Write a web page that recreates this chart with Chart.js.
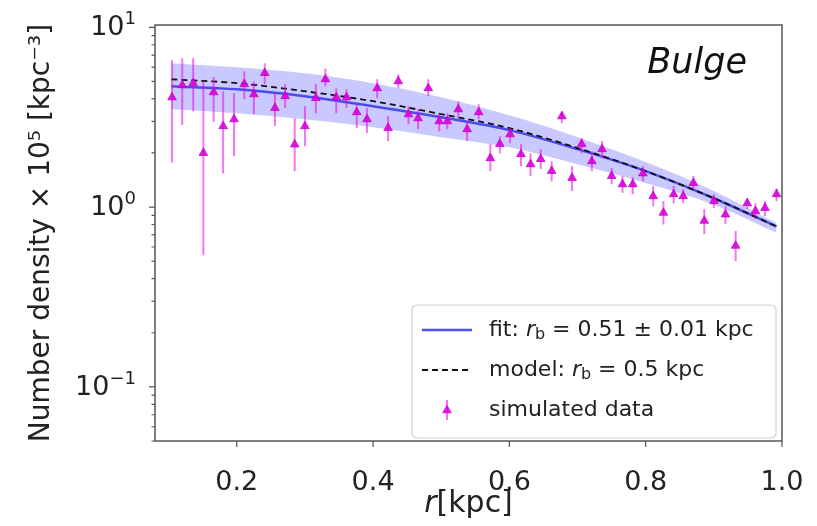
<!DOCTYPE html>
<html>
<head>
<meta charset="utf-8">
<script src="https://cdn.jsdelivr.net/npm/chart.js@4.4.1/dist/chart.umd.min.js"></script>
<style>
  html, body { margin: 0; padding: 0; background: #fff; }
</style>
</head>
<body>
<canvas id="canvas" width="817" height="526"></canvas>
<script>
// MARK: Data
const radius = [
  0.105, 0.120, 0.136, 0.151, 0.166, 0.180, 0.196, 0.211, 0.225, 0.241,
  0.256, 0.271, 0.285, 0.300, 0.316, 0.330, 0.346, 0.361, 0.376, 0.391,
  0.406, 0.422, 0.437, 0.452, 0.466, 0.481, 0.497, 0.509, 0.525, 0.538,
  0.555, 0.572, 0.586, 0.601, 0.617, 0.631, 0.646, 0.662, 0.677, 0.692,
  0.706, 0.721, 0.736, 0.750, 0.766, 0.781, 0.796, 0.811, 0.826, 0.841,
  0.855, 0.870, 0.886, 0.900, 0.917, 0.932, 0.949, 0.961, 0.975, 0.992
];
const density = [
  4.08, 4.76, 4.89, 2.00, 4.35, 2.82, 3.08, 4.83, 4.24, 5.57,
  3.56, 4.14, 2.23, 2.82, 4.04, 5.14, 4.08, 4.08, 3.37, 3.08,
  4.58, 2.75, 5.01, 3.28, 3.12, 4.58, 3.00, 3.00, 3.50, 2.71,
  3.37, 1.87, 2.24, 2.54, 1.97, 1.73, 1.85, 1.59, 3.20, 1.45,
  2.24, 1.80, 2.10, 1.49, 1.34, 1.34, 1.54, 1.15, 0.93, 1.18,
  1.15, 1.36, 0.84, 1.08, 0.91, 0.61, 1.05, 0.95, 0.99, 1.18
];
const densityHigh = [
  6.56, 6.73, 6.73, 5.00, 5.30, 4.40, 4.30, 5.69, 5.00, 6.31,
  4.30, 4.83, 3.12, 3.64, 4.83, 5.90, 4.58, 4.52, 3.73, 3.55,
  5.14, 3.20, 5.48, 3.64, 3.50, 5.14, 3.33, 3.33, 3.88, 3.00,
  3.73, 2.24, 2.48, 2.75, 2.24, 1.99, 2.10, 1.80, 3.41, 1.69,
  2.42, 2.05, 2.33, 1.65, 1.49, 1.47, 1.69, 1.31, 1.08, 1.31,
  1.26, 1.49, 0.975, 1.18, 1.01, 0.736, 1.12, 1.05, 1.08, 1.27
];
const densityLow = [
  1.77, 2.86, 3.41, 0.54, 2.97, 1.54, 1.92, 3.98, 3.28, 4.83,
  2.82, 3.56, 1.585, 2.18, 3.33, 4.70, 3.33, 3.56, 2.75, 2.58,
  4.04, 2.33, 4.58, 2.89, 2.71, 4.14, 2.64, 2.71, 3.12, 2.33,
  3.08, 1.585, 1.99, 2.27, 1.69, 1.49, 1.63, 1.39, 2.93, 1.23,
  1.99, 1.585, 1.87, 1.34, 1.20, 1.18, 1.39, 1.01, 0.80, 1.05,
  1.05, 1.26, 0.708, 0.987, 0.804, 0.501, 0.975, 0.858, 0.891, 1.08
];

const curveR = [0.104, 0.2, 0.3, 0.4, 0.5, 0.6, 0.7, 0.8, 0.9, 0.992];
const fitDensity = [4.70, 4.52, 4.14, 3.64, 3.16, 2.68, 2.10, 1.585, 1.12, 0.78];
const modelDensity = [5.14, 4.89, 4.41, 3.88, 3.29, 2.75, 2.13, 1.585, 1.12, 0.78];
const bandHigh = [6.31, 5.99, 5.55, 4.89, 4.08, 3.24, 2.45, 1.78, 1.23, 0.815];
const bandLow = [3.50, 3.33, 3.08, 2.78, 2.45, 2.15, 1.73, 1.36, 1.03, 0.717];

const xTicks = [0.2, 0.4, 0.6, 0.8, 1.0];
const yTicks = [0.1, 1, 10];
const yTickExponents = ['\u22121', '0', '1'];

// MARK: Helpers
const FONT = '"DejaVu Sans", sans-serif';
const toXY = (xs, ys) => xs.map((x, i) => ({ x, y: ys[i] }));

function drawRuns(ctx, runs, x, y) {
  // runs: [{ t, font, dy }]
  let cx = x;
  runs.forEach(run => {
    ctx.font = run.font;
    ctx.fillText(run.t, cx, y + (run.dy || 0));
    cx += ctx.measureText(run.t).width;
  });
  return cx;
}

function runsWidth(ctx, runs) {
  let w = 0;
  runs.forEach(run => {
    ctx.font = run.font;
    w += ctx.measureText(run.t).width;
  });
  return w;
}

function triangle(ctx, cx, cy, r) {
  ctx.beginPath();
  ctx.moveTo(cx, cy - r);
  ctx.lineTo(cx + r * 0.9, cy + r * 0.6);
  ctx.lineTo(cx - r * 0.9, cy + r * 0.6);
  ctx.closePath();
}

const ERR_COLOR = 'rgba(236, 0, 236, 0.55)';
const MARK_COLOR = 'rgba(222, 0, 222, 0.9)';
const FIT_COLOR = 'rgba(70, 70, 235, 0.95)';

// MARK: Plugin for error bars, frame, minor ticks, legend and labels
const decorPlugin = {
  id: 'decor',
  beforeDatasetDraw(chart, args) {
    if (args.index !== 4) return;
    const { ctx, scales: { x, y } } = chart;
    ctx.save();
    ctx.strokeStyle = ERR_COLOR;
    ctx.lineWidth = 2;
    radius.forEach((r, i) => {
      const px = x.getPixelForValue(r);
      ctx.beginPath();
      ctx.moveTo(px, y.getPixelForValue(densityLow[i]));
      ctx.lineTo(px, y.getPixelForValue(densityHigh[i]));
      ctx.stroke();
    });
    ctx.restore();
  },
  afterDraw(chart) {
    const { ctx, chartArea: a, scales: { x, y } } = chart;
    ctx.save();

    // frame
    ctx.strokeStyle = '#555';
    ctx.lineWidth = 1.5;
    ctx.strokeRect(a.left, a.top, a.right - a.left, a.bottom - a.top);

    // tick marks
    ctx.lineWidth = 1.2;
    ctx.beginPath();
    xTicks.forEach(v => {
      const px = x.getPixelForValue(v);
      ctx.moveTo(px, a.bottom);
      ctx.lineTo(px, a.bottom + 6);
    });
    for (let e = -2; e <= 1; e++) {
      for (let m = 1; m <= 9; m++) {
        const v = m * Math.pow(10, e);
        if (v < y.min || v > y.max) continue;
        const py = y.getPixelForValue(v);
        ctx.moveTo(a.left, py);
        ctx.lineTo(a.left - (m === 1 ? 6 : 3.5), py);
      }
    }
    ctx.stroke();

    // y tick labels as 10^n with a raised exponent
    ctx.fillStyle = '#222';
    ctx.textBaseline = 'middle';
    ctx.textAlign = 'left';
    yTicks.forEach((v, i) => {
      const py = y.getPixelForValue(v);
      const runs = [
        { t: '10', font: '27px ' + FONT },
        { t: yTickExponents[i], font: '18px ' + FONT, dy: -9 }
      ];
      drawRuns(ctx, runs, 136 - runsWidth(ctx, runs), py + 1);
    });

    // panel label
    ctx.fillStyle = '#111';
    ctx.font = 'italic 35px ' + FONT;
    ctx.textAlign = 'right';
    ctx.textBaseline = 'alphabetic';
    ctx.fillText('Bulge', 747, 73);

    // x title
    ctx.textAlign = 'left';
    ctx.fillStyle = '#222';
    const xTitle = [
      { t: 'r', font: 'italic 30px ' + FONT },
      { t: '[kpc]', font: '30px ' + FONT }
    ];
    const tw = runsWidth(ctx, xTitle);
    drawRuns(ctx, xTitle, (a.left + a.right) / 2 - tw / 2, 512);

    // legend
    const lx = 412, ly = 305, lw = 364, lh = 133;
    ctx.fillStyle = 'rgba(255,255,255,0.8)';
    ctx.strokeStyle = '#d0d0d0';
    ctx.lineWidth = 1.2;
    ctx.beginPath();
    ctx.roundRect(lx, ly, lw, lh, 5);
    ctx.fill();
    ctx.stroke();

    const f = '22px ' + FONT, fi = 'italic 22px ' + FONT, fs = '16px ' + FONT;
    const tx = 489;
    const rows = [330, 370, 410];

    ctx.lineWidth = 2.5;
    ctx.strokeStyle = FIT_COLOR;
    ctx.beginPath();
    ctx.moveTo(422, rows[0]);
    ctx.lineTo(472, rows[0]);
    ctx.stroke();

    ctx.lineWidth = 1.8;
    ctx.strokeStyle = '#111';
    ctx.setLineDash([6, 4]);
    ctx.beginPath();
    ctx.moveTo(422, rows[1]);
    ctx.lineTo(472, rows[1]);
    ctx.stroke();
    ctx.setLineDash([]);

    ctx.strokeStyle = ERR_COLOR;
    ctx.lineWidth = 2;
    ctx.beginPath();
    ctx.moveTo(447, rows[2] - 10);
    ctx.lineTo(447, rows[2] + 10);
    ctx.stroke();
    ctx.fillStyle = MARK_COLOR;
    triangle(ctx, 447, rows[2], 5.5);
    ctx.fill();

    ctx.fillStyle = '#222';
    ctx.textBaseline = 'middle';
    drawRuns(ctx, [
      { t: 'fit: ', font: f },
      { t: 'r', font: fi },
      { t: 'b', font: fs, dy: 5 },
      { t: ' = 0.51 \u00B1 0.01 kpc', font: f }
    ], tx, rows[0]);
    drawRuns(ctx, [
      { t: 'model: ', font: f },
      { t: 'r', font: fi },
      { t: 'b', font: fs, dy: 5 },
      { t: ' = 0.5 kpc', font: f }
    ], tx, rows[1]);
    drawRuns(ctx, [{ t: 'simulated data', font: f }], tx, rows[2]);

    ctx.restore();
  }
};

// MARK: Chart
const ctx = document.getElementById('canvas').getContext('2d');

const chart = new Chart(ctx, {
  type: 'line',
  data: {
    datasets: [
      {
        label: 'band high',
        data: toXY(curveR, bandHigh),
        borderWidth: 0,
        pointRadius: 0,
        fill: '+1',
        backgroundColor: 'rgba(90, 90, 255, 0.33)',
        cubicInterpolationMode: 'monotone',
        order: 4
      },
      {
        label: 'band low',
        data: toXY(curveR, bandLow),
        borderWidth: 0,
        pointRadius: 0,
        fill: false,
        cubicInterpolationMode: 'monotone',
        order: 5
      },
      {
        label: 'fit',
        data: toXY(curveR, fitDensity),
        borderColor: FIT_COLOR,
        borderWidth: 2.5,
        pointRadius: 0,
        fill: false,
        cubicInterpolationMode: 'monotone',
        order: 2
      },
      {
        label: 'model',
        data: toXY(curveR, modelDensity),
        borderColor: '#111',
        borderWidth: 1.8,
        borderDash: [6, 4],
        pointRadius: 0,
        fill: false,
        cubicInterpolationMode: 'monotone',
        order: 1
      },
      {
        label: 'simulated data',
        data: toXY(radius, density),
        showLine: false,
        pointStyle: 'triangle',
        pointRadius: 5,
        pointBorderWidth: 0.8,
        pointBackgroundColor: MARK_COLOR,
        pointBorderColor: 'rgba(190, 0, 190, 0.9)',
        order: 0
      }
    ]
  },
  options: {
    responsive: false,
    animation: false,
    events: [],
    layout: {
      padding: { left: 0, right: 35, top: 25, bottom: 0 }
    },
    plugins: {
      legend: { display: false },
      tooltip: { enabled: false }
    },
    scales: {
      x: {
        type: 'linear',
        min: 0.08,
        max: 1.0,
        grid: { display: false, drawTicks: false },
        border: { display: false },
        afterBuildTicks: scale => {
          scale.ticks = xTicks.map(v => ({ value: v }));
        },
        afterFit: scale => {
          scale.height = 85;
          scale.paddingLeft = 0;
          scale.paddingRight = 0;
        },
        ticks: {
          padding: 26,
          color: '#222',
          font: { family: FONT, size: 27 },
          maxRotation: 0,
          callback: v => v.toFixed(1)
        }
      },
      y: {
        type: 'logarithmic',
        min: 0.05,
        max: 10.3,
        grid: { display: false, drawTicks: false },
        border: { display: false },
        afterBuildTicks: scale => {
          scale.ticks = yTicks.map(v => ({ value: v, major: true }));
        },
        afterFit: scale => {
          scale.width = 155;
          scale.paddingTop = 0;
          scale.paddingBottom = 0;
        },
        ticks: { display: false },
        title: {
          display: true,
          text: 'Number density \u00D7 10\u2075 [kpc\u207B\u00B3]',
          color: '#222',
          font: { family: FONT, size: 28 },
          padding: { top: 25, bottom: 0 }
        }
      }
    }
  },
  plugins: [decorPlugin]
});
</script>
</body>
</html>
